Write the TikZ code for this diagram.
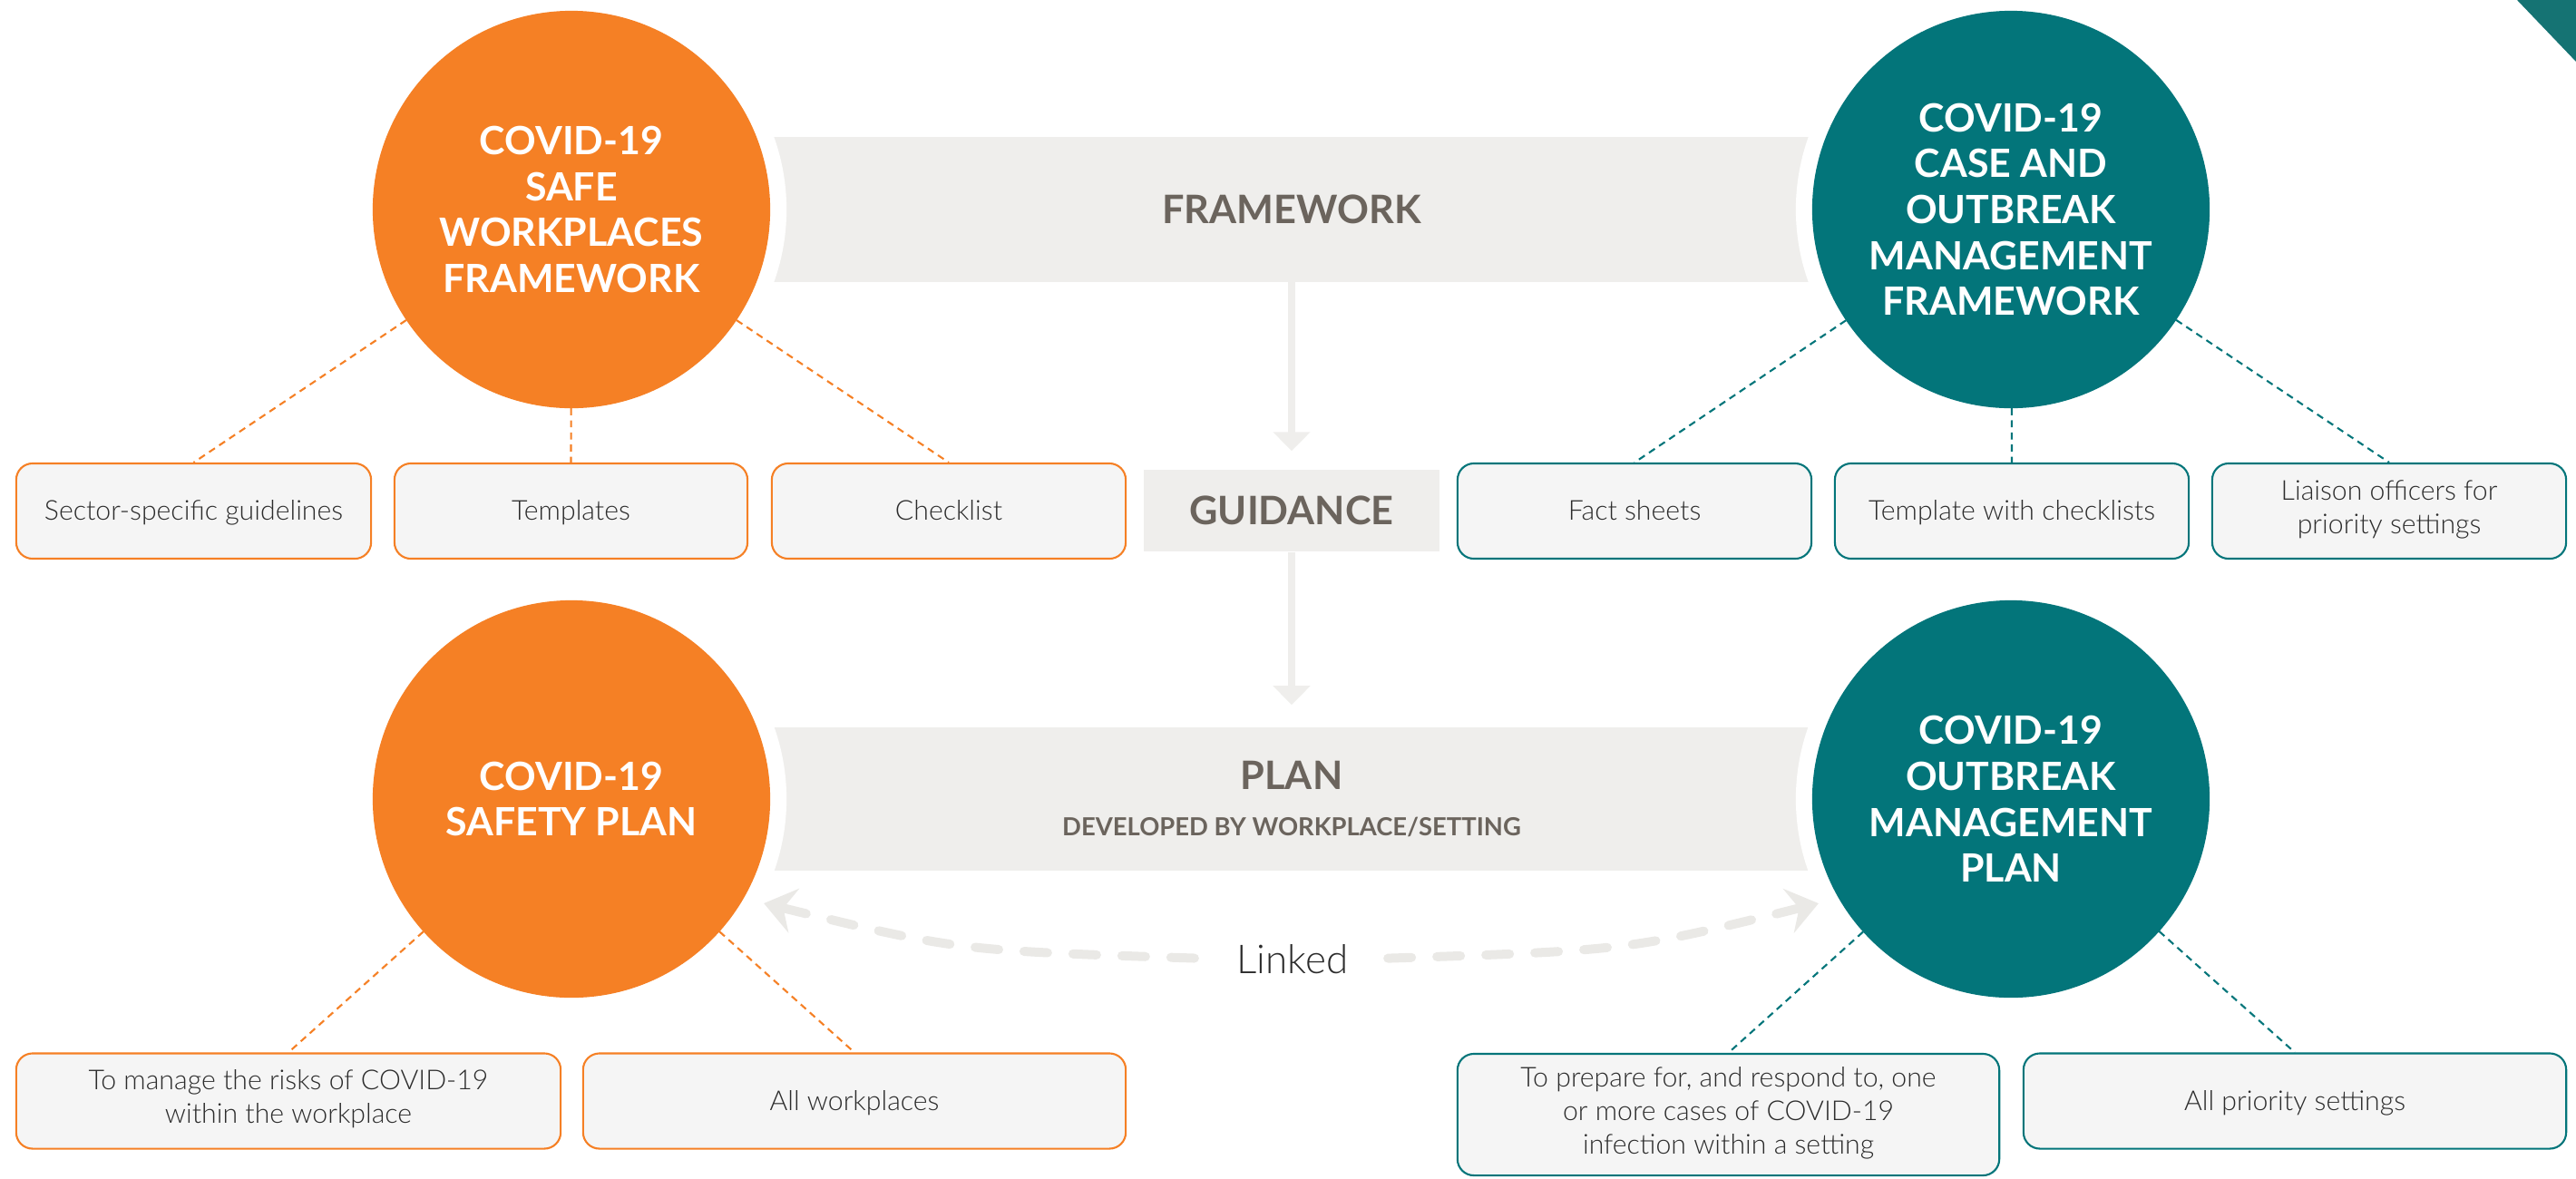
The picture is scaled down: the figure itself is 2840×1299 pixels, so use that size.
\documentclass[tikz,border=0pt]{standalone}
\usepackage{fontspec}
\setmainfont{Lato}
\newfontfamily\lightfont{Lato Light}
\usetikzlibrary{arrows.meta}
\definecolor{orange}{HTML}{F58025}
\definecolor{teal}{HTML}{03757A}
\definecolor{cornerteal}{HTML}{157373}
\definecolor{bandgrey}{HTML}{EFEEEC}
\definecolor{linkgrey}{HTML}{EAE9E6}
\definecolor{textgrey}{HTML}{6B645D}
\definecolor{boxgrey}{HTML}{F5F5F5}
\definecolor{boxtext}{HTML}{2C2C2C}
\begin{document}
\begin{tikzpicture}[x=0.01cm, y=-0.01cm]
    \tikzstyle band=[fill=bandgrey, text=textgrey, align=center, inner sep=0, font=\fontsize{12.3}{14.4}\selectfont\bfseries]
    \tikzstyle disc=[circle, minimum size=4.38cm, inner sep=0, outer sep=0, text=white, align=center, font=\fontsize{12.2}{14.4}\selectfont\bfseries, preaction={draw=white, line width=0.36cm}]
    \tikzstyle itembox=[rounded corners=0.18cm, line width=0.6pt, fill=boxgrey, text=boxtext, align=center, inner sep=0, minimum height=1.05cm, font=\lightfont\fontsize{8.6}{10.5}\selectfont, execute at begin node={\rule{0pt}{8.4pt}}, execute at end node={\rule[-2.6pt]{0pt}{0pt}}]
    \tikzstyle tie=[line width=0.6pt, dash pattern=on 2.2pt off 1.6pt]
    \tikzstyle flow=[draw=bandgrey, line width=0.08cm, -{Triangle[width=0.4cm, length=0.21cm]}]
    \tikzstyle link=[draw=linkgrey, line width=0.1cm, line cap=round, dash pattern=on 0.26cm off 0.28cm, -{Stealth[width=0.5cm, length=0.34cm, inset=0.12cm]}]
    \useasboundingbox (0,0) rectangle (2840,1299);
    \fill[cornerteal] (2775,0) -- (2840,0) -- (2840,68) -- cycle;
    \node[band, minimum width=15.87cm, minimum height=1.59cm] (fw) at (1424,231) {FRAMEWORK};
    \node[band, minimum width=3.26cm, minimum height=0.9cm] (gd) at (1424,563) {GUIDANCE};
    \node[band, minimum width=15.87cm, minimum height=1.58cm] (pl) at (1424,881)
    {PLAN\\{\fontsize{7.8}{15}\selectfont DEVELOPED BY WORKPLACE/SETTING}};
    \node[disc, fill=orange] (swf) at (630,231) {COVID-19\\SAFE\\WORKPLACES\\FRAMEWORK};
    \node[disc, fill=teal] (com) at (2217,231) {COVID-19\\CASE AND\\OUTBREAK\\MANAGEMENT\\FRAMEWORK};
    \node[disc, fill=orange] (sp) at (630,881) {COVID-19\\SAFETY PLAN};
    \node[disc, fill=teal] (omp) at (2217,881) {COVID-19\\OUTBREAK\\MANAGEMENT\\PLAN};
    \node[itembox, draw=orange, minimum width=3.91cm] (sg) at (213.5,563.5) {Sector-specific guidelines};
    \node[itembox, draw=orange, minimum width=3.89cm] (tp) at (629.5,563.5) {Templates};
    \node[itembox, draw=orange, minimum width=3.9cm] (ck) at (1046,563.5) {Checklist};
    \node[itembox, draw=teal, minimum width=3.9cm] (fs) at (1802,563.5) {Fact sheets};
    \node[itembox, draw=teal, minimum width=3.9cm] (tc) at (2218,563.5) {Template with checklists};
    \node[itembox, draw=teal, minimum width=3.9cm] (lo) at (2634,563.5) {Liaison officers for\\priority settings};
    \node[itembox, draw=orange, minimum width=6cm] (mr) at (318,1214) {To manage the risks of COVID-19\\within the workplace};
    \node[itembox, draw=orange, minimum width=5.98cm] (aw) at (942,1214) {All workplaces};
    \node[itembox, draw=teal, minimum width=5.97cm, minimum height=1.34cm] (pr) at (1905.5,1229)
    {To prepare for, and respond to, one\\or more cases of COVID-19\\infection within a setting};
    \node[itembox, draw=teal, minimum width=5.98cm] (ap) at (2530,1214) {All priority settings};
    \draw[tie, orange] (swf) -- (sg.north);
    \draw[tie, orange] (swf) -- (tp.north);
    \draw[tie, orange] (swf) -- (ck.north);
    \draw[tie, teal] (com) -- (fs.north);
    \draw[tie, teal] (com) -- (tc.north);
    \draw[tie, teal] (com) -- (lo.north);
    \draw[tie, orange] (sp) -- (mr.north);
    \draw[tie, orange] (sp) -- (aw.north);
    \draw[tie, teal] (omp) -- (pr.north);
    \draw[tie, teal] (omp) -- (ap.north);
    \draw[flow, shorten >=0.2cm] (fw) -- (gd);
    \draw[flow, shorten >=0.24cm] (gd) -- (pl);
    \node[text=boxtext, inner sep=0, font=\lightfont\fontsize{12.5}{14}\selectfont] (lk) at (1425,1058) {Linked};
    \draw[link, shorten <=0.46cm, shorten >=0.23cm] (lk.west) .. controls +(-308,-10) .. (sp.-30);
    \draw[link, shorten <=0.43cm, shorten >=0.23cm] (lk.east) .. controls +(308,-10) .. (omp.210);
\end{tikzpicture}
\end{document}
